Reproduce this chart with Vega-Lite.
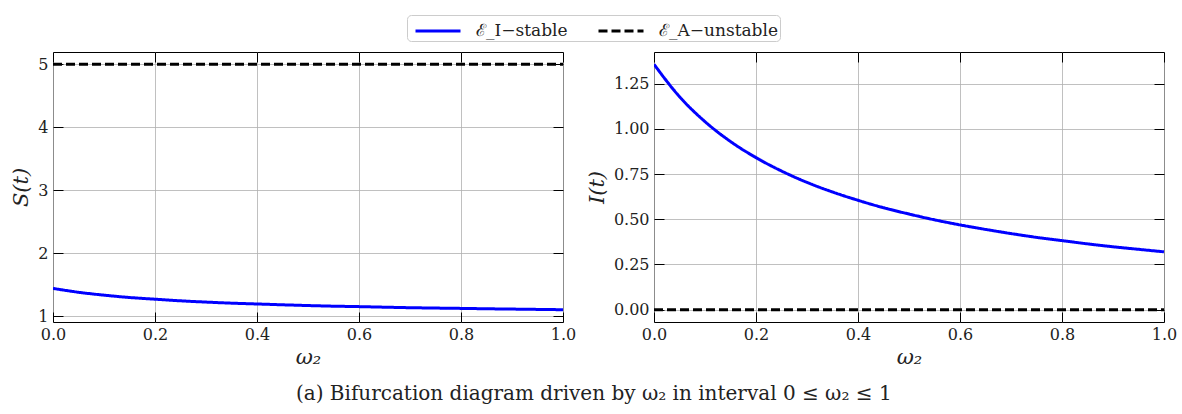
{
  "$schema": "https://vega.github.io/schema/vega-lite/v6.json",
  "padding": {"left": 10, "top": 14, "right": 5, "bottom": 5},
  "datasets": {
    "sdata": [
      {"w": 0.0, "S": 1.444, "series": "ℰ_I−stable"},
      {"w": 0.05, "S": 1.383, "series": "ℰ_I−stable"},
      {"w": 0.1, "S": 1.337, "series": "ℰ_I−stable"},
      {"w": 0.15, "S": 1.3, "series": "ℰ_I−stable"},
      {"w": 0.2, "S": 1.273, "series": "ℰ_I−stable"},
      {"w": 0.25, "S": 1.247, "series": "ℰ_I−stable"},
      {"w": 0.3, "S": 1.227, "series": "ℰ_I−stable"},
      {"w": 0.35, "S": 1.21, "series": "ℰ_I−stable"},
      {"w": 0.4, "S": 1.197, "series": "ℰ_I−stable"},
      {"w": 0.45, "S": 1.184, "series": "ℰ_I−stable"},
      {"w": 0.5, "S": 1.172, "series": "ℰ_I−stable"},
      {"w": 0.55, "S": 1.162, "series": "ℰ_I−stable"},
      {"w": 0.6, "S": 1.155, "series": "ℰ_I−stable"},
      {"w": 0.65, "S": 1.146, "series": "ℰ_I−stable"},
      {"w": 0.7, "S": 1.138, "series": "ℰ_I−stable"},
      {"w": 0.75, "S": 1.132, "series": "ℰ_I−stable"},
      {"w": 0.8, "S": 1.127, "series": "ℰ_I−stable"},
      {"w": 0.85, "S": 1.121, "series": "ℰ_I−stable"},
      {"w": 0.9, "S": 1.116, "series": "ℰ_I−stable"},
      {"w": 0.95, "S": 1.111, "series": "ℰ_I−stable"},
      {"w": 1.0, "S": 1.106, "series": "ℰ_I−stable"},
      {"w": 0.0, "S": 5.0, "series": "ℰ_A−unstable"},
      {"w": 1.0, "S": 5.0, "series": "ℰ_A−unstable"}
    ],
    "idata": [
      {"w": 0.0, "I": 1.357, "series": "ℰ_I−stable"},
      {"w": 0.05, "I": 1.178, "series": "ℰ_I−stable"},
      {"w": 0.1, "I": 1.04, "series": "ℰ_I−stable"},
      {"w": 0.15, "I": 0.93, "series": "ℰ_I−stable"},
      {"w": 0.2, "I": 0.841, "series": "ℰ_I−stable"},
      {"w": 0.25, "I": 0.767, "series": "ℰ_I−stable"},
      {"w": 0.3, "I": 0.704, "series": "ℰ_I−stable"},
      {"w": 0.35, "I": 0.651, "series": "ℰ_I−stable"},
      {"w": 0.4, "I": 0.605, "series": "ℰ_I−stable"},
      {"w": 0.45, "I": 0.564, "series": "ℰ_I−stable"},
      {"w": 0.5, "I": 0.529, "series": "ℰ_I−stable"},
      {"w": 0.55, "I": 0.497, "series": "ℰ_I−stable"},
      {"w": 0.6, "I": 0.469, "series": "ℰ_I−stable"},
      {"w": 0.65, "I": 0.444, "series": "ℰ_I−stable"},
      {"w": 0.7, "I": 0.421, "series": "ℰ_I−stable"},
      {"w": 0.75, "I": 0.4, "series": "ℰ_I−stable"},
      {"w": 0.8, "I": 0.382, "series": "ℰ_I−stable"},
      {"w": 0.85, "I": 0.364, "series": "ℰ_I−stable"},
      {"w": 0.9, "I": 0.348, "series": "ℰ_I−stable"},
      {"w": 0.95, "I": 0.334, "series": "ℰ_I−stable"},
      {"w": 1.0, "I": 0.32, "series": "ℰ_I−stable"},
      {"w": 0.0, "I": 0.0, "series": "ℰ_A−unstable"},
      {"w": 1.0, "I": 0.0, "series": "ℰ_A−unstable"}
    ]
  },
  "config": {
    "font": "DejaVu Serif",
    "view": {"stroke": "black", "strokeWidth": 1},
    "style": {
      "guide-label": {"font": "DejaVu Serif"},
      "guide-title": {"font": "DejaVu Serif"}
    },
    "axis": {
      "domain": false,
      "grid": false,
      "gridColor": "#b0b0b0",
      "gridWidth": 0.8,
      "tickColor": "black",
      "tickWidth": 1,
      "tickSize": -10,
      "labelFlush": false,
      "labelFont": "DejaVu Serif",
      "labelFontSize": 16,
      "labelColor": "#222",
      "titleFont": "DejaVu Serif",
      "titleFontSize": 21,
      "titleFontWeight": "normal",
      "titleFontStyle": "italic",
      "titleColor": "#222"
    },
    "legend": {
      "labelFont": "DejaVu Serif",
      "labelFontSize": 17,
      "labelColor": "#222"
    }
  },
  "title": {
    "text": "(a) Bifurcation diagram driven by ω₂ in interval 0 ≤ ω₂ ≤ 1",
    "orient": "bottom",
    "anchor": "middle",
    "font": "DejaVu Serif",
    "fontSize": 20,
    "fontWeight": "normal",
    "color": "#222",
    "offset": 16
  },
  "spacing": 8,
  "hconcat": [
    {
      "width": 510,
      "height": 270,
      "data": {"name": "sdata"},
      "layer": [
        {
          "mark": {"type": "line", "strokeWidth": 3, "clip": true, "interpolate": "monotone"},
          "encoding": {
            "x": {"field": "w", "type": "quantitative", "scale": {"domain": [0, 1], "nice": false},
              "axis": {"title": "ω₂", "values": [0, 0.2, 0.4, 0.6, 0.8, 1.0], "format": ".1f", "grid": true, "labelPadding": 14, "titlePadding": 4, "labelFont": "DejaVu Serif", "titleFont": "DejaVu Serif"}},
            "y": {"field": "S", "type": "quantitative", "scale": {"domain": [0.911, 5.195], "nice": false, "zero": false},
              "axis": {"title": "S(t)", "values": [1, 2, 3, 4, 5], "format": "d", "grid": true, "labelPadding": 15, "titlePadding": 6, "labelFont": "DejaVu Serif", "titleFont": "DejaVu Serif"}},
            "color": {"field": "series", "type": "nominal",
              "scale": {"domain": ["ℰ_I−stable", "ℰ_A−unstable"], "range": ["#0000ff", "#000000"]},
              "legend": {"title": null, "orient": "none", "legendX": 354, "legendY": -37, "direction": "horizontal", "columns": 2, "symbolType": "M-0.6,0H3.0", "symbolSize": 625, "symbolStrokeWidth": 3, "columnPadding": 24, "padding": 2, "strokeColor": "#cccccc", "fillColor": "white", "cornerRadius": 4, "labelOffset": 39, "offset": 0, "labelFont": "DejaVu Serif", "labelFontSize": 17}},
            "strokeDash": {"field": "series", "type": "nominal",
              "scale": {"domain": ["ℰ_I−stable", "ℰ_A−unstable"], "range": [[1, 0], [9, 4]]}}
          }
        },
        {
          "mark": {"type": "point", "opacity": 0},
          "encoding": {
            "x": {"field": "w", "type": "quantitative", "axis": {"orient": "top", "title": null, "labels": false, "values": [0, 0.2, 0.4, 0.6, 0.8, 1.0]}},
            "y": {"field": "S", "type": "quantitative", "axis": {"orient": "right", "title": null, "labels": false, "values": [1, 2, 3, 4, 5]}}
          }
        }
      ],
      "resolve": {"axis": {"x": "independent", "y": "independent"}}
    },
    {
      "width": 510,
      "height": 270,
      "data": {"name": "idata"},
      "layer": [
        {
          "mark": {"type": "line", "strokeWidth": 3, "clip": true, "interpolate": "monotone"},
          "encoding": {
            "x": {"field": "w", "type": "quantitative", "scale": {"domain": [0, 1], "nice": false},
              "axis": {"title": "ω₂", "values": [0, 0.2, 0.4, 0.6, 0.8, 1.0], "format": ".1f", "grid": true, "labelPadding": 14, "titlePadding": 4, "labelFont": "DejaVu Serif", "titleFont": "DejaVu Serif"}},
            "y": {"field": "I", "type": "quantitative", "scale": {"domain": [-0.068, 1.425], "nice": false, "zero": false},
              "axis": {"title": "I(t)", "values": [0, 0.25, 0.5, 0.75, 1.0, 1.25], "format": ".2f", "grid": true, "labelPadding": 15, "titlePadding": 6, "labelFont": "DejaVu Serif", "titleFont": "DejaVu Serif"}},
            "color": {"field": "series", "type": "nominal",
              "scale": {"domain": ["ℰ_I−stable", "ℰ_A−unstable"], "range": ["#0000ff", "#000000"]}},
            "strokeDash": {"field": "series", "type": "nominal",
              "scale": {"domain": ["ℰ_I−stable", "ℰ_A−unstable"], "range": [[1, 0], [9, 4]]}}
          }
        },
        {
          "mark": {"type": "point", "opacity": 0},
          "encoding": {
            "x": {"field": "w", "type": "quantitative", "axis": {"orient": "top", "title": null, "labels": false, "values": [0, 0.2, 0.4, 0.6, 0.8, 1.0]}},
            "y": {"field": "I", "type": "quantitative", "axis": {"orient": "right", "title": null, "labels": false, "values": [0, 0.25, 0.5, 0.75, 1.0, 1.25]}}
          }
        }
      ],
      "resolve": {"axis": {"x": "independent", "y": "independent"}}
    }
  ],
  "resolve": {
    "scale": {"color": "shared", "strokeDash": "shared"},
    "legend": {"color": "shared", "strokeDash": "shared"}
  }
}
